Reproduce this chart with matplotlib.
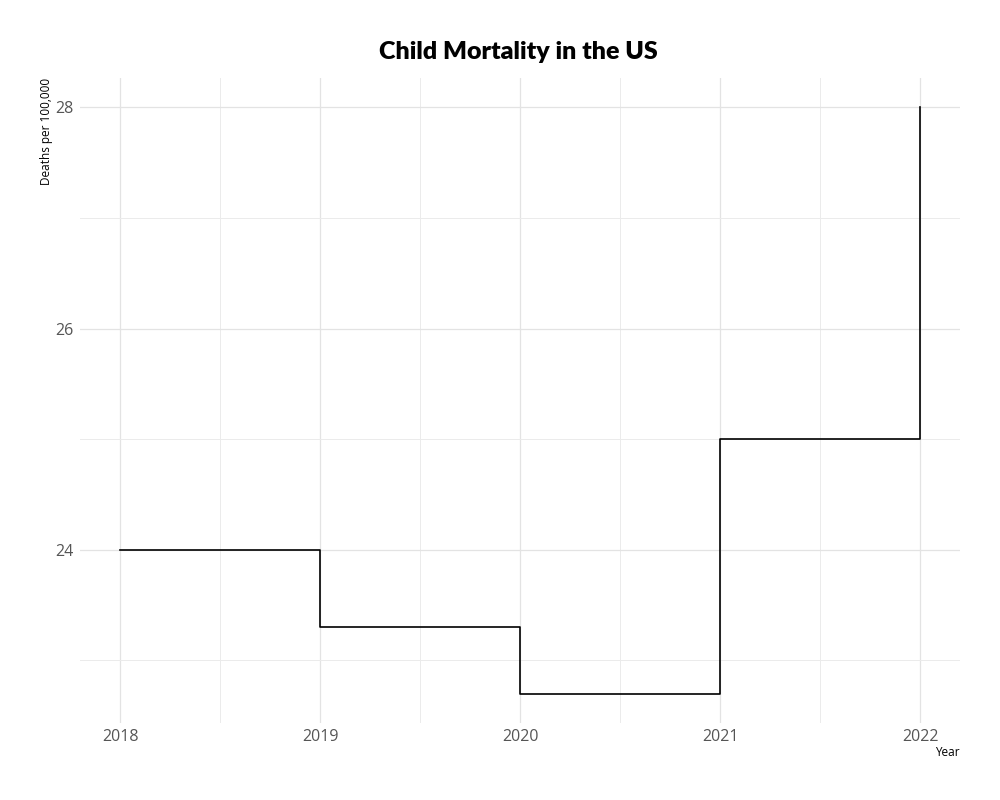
import matplotlib
matplotlib.use('Agg')
import matplotlib.pyplot as plt
from matplotlib.ticker import MultipleLocator

# Dados
anos = [2018, 2019, 2020, 2021, 2022]
mortes = [24.0, 23.3, 22.7, 25.0, 28.0]
anos_ticks = [2018, 2019, 2020, 2021, 2022]
mortes_ticks = [24, 26, 28]

fig = plt.figure(figsize=(10, 8), dpi=100)
ax = fig.add_axes([0.08, 0.09625, 0.88, 0.80625])

ax.step(anos, mortes, where='post', color='black', linewidth=1.2)

ax.set_xlim(2017.8, 2022.2)
ax.set_ylim(22.435, 28.265)
ax.set_xticks(anos_ticks)
ax.set_yticks(mortes_ticks)
ax.xaxis.set_minor_locator(MultipleLocator(0.5))
ax.yaxis.set_minor_locator(MultipleLocator(1))

ax.grid(True, which='major', color='#e3e3e3', linewidth=0.9)
ax.grid(True, which='minor', color='#ebebeb', linewidth=0.7)
ax.set_axisbelow(True)
for s in ax.spines.values():
    s.set_visible(False)
ax.tick_params(which='both', length=0, labelsize=11.5, labelcolor='#555555')
ax.tick_params(axis='x', pad=4)
ax.tick_params(axis='y', pad=5)
for lab in ax.get_xticklabels() + ax.get_yticklabels():
    lab.set_fontfamily('Open Sans')

ax.set_xlabel('Year', fontsize=8.5, family='Open Sans', loc='right', labelpad=1)
ax.set_ylabel('Deaths per 100,000', fontsize=8.5, family='Open Sans', loc='top', labelpad=1)

fig.text(0.518, 0.935, 'Child Mortality in the US', ha='center', va='center',
         fontsize=18, fontweight='heavy', family='Lato')

fig.savefig('out.png', dpi=100, facecolor='white')
